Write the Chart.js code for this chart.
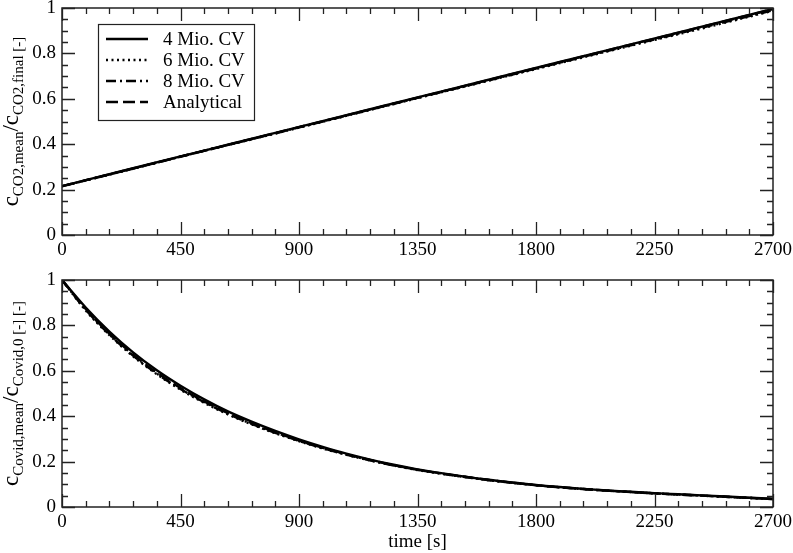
<!DOCTYPE html>
<html lang="en">
<head>
  <meta charset="UTF-8" />
  <title>CO2 / Covid concentration</title>
  <script src="https://cdn.jsdelivr.net/npm/chart.js"></script>
  <style>
    body {
      margin: 0;
      background: #fff;
      font-family: "Liberation Serif", serif;
    }
    .box {
      position: absolute;
      left: 0;
      width: 793px;
    }
    #top { top: 0; height: 260px; }
    #bottom { top: 260px; height: 293px; }
  </style>
</head>
<body>

<div class="box" id="top"><canvas id="chartCO2"></canvas></div>
<div class="box" id="bottom"><canvas id="chartCovid"></canvas></div>

<script>
// data
const timesCO2 = [0, 270, 540, 810, 1080, 1350, 1620, 1890, 2160, 2430, 2700];
const co2Mio4 = [0.215, 0.294, 0.372, 0.450, 0.528, 0.606, 0.684, 0.762, 0.840, 0.918, 0.996];
const co2Mio6 = [0.214, 0.292, 0.371, 0.447, 0.525, 0.603, 0.680, 0.757, 0.834, 0.910, 0.988];
const co2Mio8 = [0.215, 0.293, 0.371, 0.448, 0.526, 0.604, 0.681, 0.759, 0.836, 0.913, 0.990];
const co2Analytical = [0.215, 0.293, 0.371, 0.449, 0.527, 0.605, 0.683, 0.761, 0.839, 0.917, 0.995];

const timesCovid = [0, 90, 180, 270, 360, 450, 540, 630, 720, 810, 900, 990, 1080, 1170, 1260, 1350,
  1440, 1530, 1620, 1710, 1800, 1890, 1980, 2070, 2160, 2250, 2340, 2430, 2520, 2610, 2700];
const covidMio4 = [1.000, 0.879, 0.773, 0.681, 0.602, 0.534, 0.474, 0.421, 0.376, 0.335, 0.298, 0.265, 0.235, 0.209, 0.186, 0.166,
  0.149, 0.134, 0.120, 0.108, 0.097, 0.088, 0.080, 0.073, 0.067, 0.061, 0.056, 0.051, 0.046, 0.041, 0.036];
const covidMio6 = [1.000, 0.866, 0.757, 0.664, 0.585, 0.517, 0.459, 0.408, 0.364, 0.325, 0.290, 0.258, 0.230, 0.205, 0.183, 0.163,
  0.147, 0.132, 0.118, 0.106, 0.096, 0.087, 0.079, 0.072, 0.066, 0.060, 0.055, 0.050, 0.045, 0.040, 0.035];
const covidMio8 = [1.000, 0.869, 0.760, 0.667, 0.588, 0.520, 0.462, 0.411, 0.366, 0.327, 0.291, 0.259, 0.231, 0.206, 0.183, 0.164,
  0.147, 0.132, 0.119, 0.107, 0.096, 0.087, 0.079, 0.072, 0.066, 0.060, 0.055, 0.050, 0.045, 0.040, 0.035];
const covidAnalytical = [1.000, 0.872, 0.764, 0.671, 0.592, 0.524, 0.465, 0.413, 0.369, 0.329, 0.293, 0.261, 0.232, 0.207, 0.184, 0.164,
  0.148, 0.133, 0.119, 0.107, 0.096, 0.087, 0.079, 0.072, 0.066, 0.060, 0.055, 0.050, 0.045, 0.040, 0.035];

const seriesNames = ['4 Mio. CV', '6 Mio. CV', '8 Mio. CV', 'Analytical'];
const xTickStep = 450, xMinor = 90;
const yTickStep = 0.2, yMinor = 0.05;

const FONT = '"Liberation Serif", "Times New Roman", serif';
const INK = '#000';
const AXIS = '#222';

// line styles per series
const styles = [
  { borderDash: [] },
  { borderDash: [2, 3.5] },
  { borderDash: [10, 4, 2, 4] },
  { borderDash: [12, 5] }
];

function makeSets(xs, lists) {
  return lists.map((vals, i) => ({
    label: seriesNames[i],
    data: vals.map((v, k) => ({ x: xs[k], y: v })),
    borderColor: INK,
    borderWidth: 2.4,
    borderDash: styles[i].borderDash,
    pointRadius: 0,
    fill: false,
    cubicInterpolationMode: 'monotone'
  }));
}

// frame + inward ticks on all four sides
const framePlugin = {
  id: 'frame',
  afterDatasetsDraw(chart) {
    const { ctx, chartArea: a, scales: { x, y } } = chart;
    ctx.save();
    ctx.strokeStyle = AXIS;
    ctx.lineWidth = 1.5;
    ctx.strokeRect(a.left, a.top, a.right - a.left, a.bottom - a.top);
    ctx.lineWidth = 1.3;
    ctx.beginPath();
    const nx = Math.round((x.max - x.min) / xMinor);
    for (let i = 0; i <= nx; i++) {
      const v = x.min + i * xMinor;
      const px = Math.round(x.getPixelForValue(v)) + 0.5;
      const len = (i % (xTickStep / xMinor) === 0) ? 13 : 6;
      ctx.moveTo(px, a.bottom); ctx.lineTo(px, a.bottom - len);
      ctx.moveTo(px, a.top); ctx.lineTo(px, a.top + len);
    }
    const ny = Math.round((y.max - y.min) / yMinor);
    for (let i = 0; i <= ny; i++) {
      const v = y.min + i * yMinor;
      const py = Math.round(y.getPixelForValue(v)) + 0.5;
      const len = (i % Math.round(yTickStep / yMinor) === 0) ? 13 : 6;
      ctx.moveTo(a.left, py); ctx.lineTo(a.left + len, py);
      ctx.moveTo(a.right, py); ctx.lineTo(a.right - len, py);
    }
    ctx.stroke();
    ctx.restore();
  }
};

// rotated y title with subscripts
const yTitlePlugin = {
  id: 'yTitle',
  afterDraw(chart, args, opts) {
    if (!opts.parts) return;
    const { ctx, chartArea: a } = chart;
    const mainSize = 23, subSize = 15;
    ctx.save();
    ctx.fillStyle = INK;
    let total = 0;
    opts.parts.forEach(p => {
      ctx.font = (p.sub ? subSize : mainSize) + 'px ' + FONT;
      p.w = ctx.measureText(p.t).width;
      total += p.w;
    });
    const cy = (a.top + a.bottom) / 2;
    ctx.translate(opts.baseX, cy);
    ctx.rotate(-Math.PI / 2);
    ctx.textBaseline = 'alphabetic';
    let pos = -total / 2;
    opts.parts.forEach(p => {
      ctx.font = (p.sub ? subSize : mainSize) + 'px ' + FONT;
      ctx.fillText(p.t, pos, p.sub ? 5.5 : 0);
      pos += p.w;
    });
    ctx.restore();
  }
};

// legend box inside the plot
const legendPlugin = {
  id: 'boxLegend',
  afterDraw(chart, args, opts) {
    if (!opts.show) return;
    const { ctx, chartArea: a } = chart;
    const bx = a.left + 36, by = a.top + 16, bw = 156, bh = 96;
    ctx.save();
    ctx.fillStyle = '#fff';
    ctx.fillRect(bx, by, bw, bh);
    ctx.strokeStyle = AXIS;
    ctx.lineWidth = 1.2;
    ctx.strokeRect(bx + 0.5, by + 0.5, bw, bh);
    chart.data.datasets.forEach((ds, i) => {
      const yy = by + 15 + i * 21;
      ctx.beginPath();
      ctx.setLineDash(ds.borderDash || []);
      ctx.lineWidth = ds.borderWidth;
      ctx.strokeStyle = ds.borderColor;
      ctx.moveTo(bx + 8, yy);
      ctx.lineTo(bx + 50, yy);
      ctx.stroke();
      ctx.setLineDash([]);
      ctx.fillStyle = INK;
      ctx.font = '19px ' + FONT;
      ctx.textBaseline = 'middle';
      ctx.fillText(ds.label, bx + 65, yy + 1);
    });
    ctx.restore();
  }
};

function makeOptions(pad, xHeight, showXTitle, legend, titleParts) {
  return {
    responsive: true,
    maintainAspectRatio: false,
    animation: false,
    layout: { padding: pad },
    plugins: {
      legend: { display: false },
      tooltip: { enabled: false },
      boxLegend: { show: legend },
      yTitle: { parts: titleParts, baseX: 17.5 }
    },
    scales: {
      x: {
        type: 'linear',
        min: 0,
        max: 2700,
        grid: { display: false, drawTicks: false },
        border: { display: false },
        ticks: {
          stepSize: xTickStep,
          color: INK,
          padding: 4,
          maxRotation: 0,
          font: { family: FONT, size: 19 },
          callback: v => String(v)
        },
        title: {
          display: showXTitle,
          text: 'time [s]',
          color: INK,
          padding: 0,
          font: { family: FONT, size: 19 }
        },
        afterFit(scale) {
          scale.height = xHeight;
          scale.paddingLeft = 0;
          scale.paddingRight = 0;
        }
      },
      y: {
        min: 0,
        max: 1,
        grid: { display: false, drawTicks: false },
        border: { display: false },
        ticks: {
          stepSize: yTickStep,
          color: INK,
          padding: 6,
          font: { family: FONT, size: 19 },
          callback: v => String(Math.round(v * 100) / 100)
        },
        afterFit(scale) {
          scale.width = 62;
          scale.paddingTop = 0;
          scale.paddingBottom = 0;
        }
      }
    }
  };
}

new Chart(document.getElementById('chartCO2'), {
  type: 'line',
  data: { datasets: makeSets(timesCO2, [co2Mio4, co2Mio6, co2Mio8, co2Analytical]) },
  options: makeOptions({ top: 8, right: 20, bottom: 0, left: 0 }, 25, false, true, [
    { t: 'c' }, { t: 'CO2,mean', sub: true }, { t: '/' }, { t: 'c' }, { t: 'CO2,final', sub: true }, { t: ' [-]', sub: true }
  ]),
  plugins: [framePlugin, yTitlePlugin, legendPlugin]
});

new Chart(document.getElementById('chartCovid'), {
  type: 'line',
  data: { datasets: makeSets(timesCovid, [covidMio4, covidMio6, covidMio8, covidAnalytical]) },
  options: makeOptions({ top: 20, right: 20, bottom: 0, left: 0 }, 46, true, false, [
    { t: 'c' }, { t: 'Covid,mean', sub: true }, { t: '/' }, { t: 'c' }, { t: 'Covid,0', sub: true }, { t: ' [-] [-]', sub: true }
  ]),
  plugins: [framePlugin, yTitlePlugin, legendPlugin]
});
</script>

</body>
</html>
